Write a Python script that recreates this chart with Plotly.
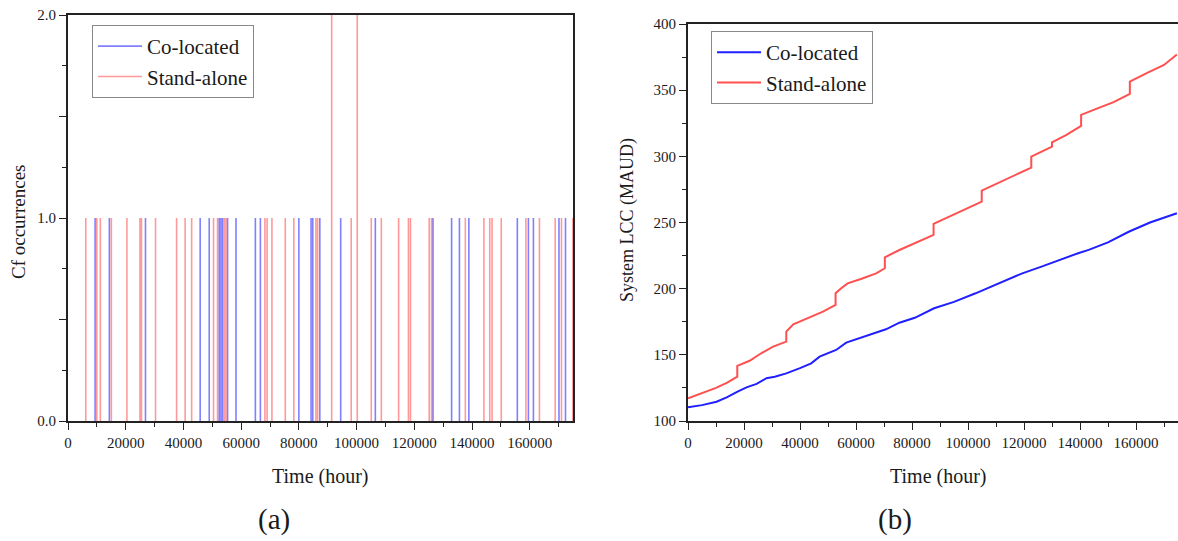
import plotly.graph_objects as go

# ---------------- data ----------------
# (a) Cf occurrence event times (hour) and counts
co_events_t = [9390, 14330, 26850, 45800, 48940, 52410, 53000, 53560, 55300, 58220,
               64930, 66670, 80000, 84240, 84830, 87260, 94500, 106500, 126490,
               132930, 135640, 138910, 155710, 159540, 161280, 170140, 172400]
co_events_n = [1] * len(co_events_t)

sa_events_t = [6160, 9980, 11200, 15020, 20420, 24940, 25460, 30330, 37630, 40590,
               42850, 50430, 51820, 54150, 54740, 68240, 69000, 70670, 75300, 78250,
               85910, 86500, 91370, 98150, 100240, 105100, 108580, 114570, 117970,
               118670, 125170, 125970, 137690, 144130, 146150, 146950, 150140,
               158670, 163360, 168820, 171010, 174940]
sa_events_n = [1] * len(sa_events_t)
sa_events_n[sa_events_t.index(91370)] = 2
sa_events_n[sa_events_t.index(100240)] = 2

# (b) System LCC (MAUD)
co_lcc_t = [0, 5000, 10200, 14000, 17700, 20900, 24500, 28000, 31000, 35100, 40000,
            44000, 47000, 50000, 52900, 56500, 61200, 67200, 70700, 75500, 81000,
            87900, 95000, 102700, 110000, 119400, 126000, 132400, 139600, 143100,
            150000, 157400, 165000, 174600]
co_lcc_v = [110.3, 112.0, 114.6, 118.0, 122.2, 125.4, 128.0, 132.3, 133.5, 136.0, 140.0,
            143.6, 148.6, 151.0, 153.7, 159.2, 162.5, 166.3, 169.3, 174.3, 178.0,
            185.2, 190.0, 196.5, 203.0, 211.6, 216.5, 221.7, 227.0, 229.3,
            235.0, 243.0, 250.0, 257.0]

sa_lcc_t = [0, 5000, 10000, 14000, 17600, 17600, 22000, 26000, 30400, 35100, 35100,
            37600, 43000, 48200, 52700, 52700, 54500, 57000, 62000, 67200, 70300,
            70300, 75500, 81000, 87700, 87700, 95700, 104900, 104900, 113800,
            122600, 122600, 130000, 130000, 135000, 140400, 140400, 146000, 152000,
            157800, 157800, 164000, 170000, 174600]
sa_lcc_v = [117.2, 121.0, 125.0, 129.0, 133.5, 141.6, 145.5, 151.0, 156.2, 160.0, 167.5,
            173.0, 178.0, 182.6, 187.7, 196.5, 200.0, 204.0, 207.5, 211.6, 215.4,
            223.7, 229.2, 234.5, 240.6, 248.9, 257.0, 265.8, 274.1, 283.0,
            291.5, 299.8, 307.3, 310.5, 316.0, 323.0, 331.3, 336.0, 341.0,
            347.2, 356.5, 363.0, 369.0, 377.0]

legend_names = ["Co-located", "Stand-alone"]
x_tick_vals = list(range(0, 170000, 20000))
x_tick_text = [str(v) for v in x_tick_vals]
lcc_tick_vals = list(range(100, 401, 50))
cf_tick_vals = [0, 0.5, 1, 1.5, 2]
cf_tick_text = ["0.0", "", "1.0", "", "2.0"]

# ---------------- helpers ----------------
def spikes(ts, ns):
    xs, ys = [], []
    for t, n in zip(ts, ns):
        xs += [t, t, None]
        ys += [0, n, None]
    return xs, ys

W, H = 1178, 541
FONT = "Liberation Serif"
TXT = "#1a1a1a"

def px(x):
    return x / W

def py(y):
    return 1 - y / H

fig = go.Figure()

cx, cy = spikes(co_events_t, co_events_n)
sx, sy = spikes(sa_events_t, sa_events_n)
fig.add_trace(go.Scatter(x=cx, y=cy, mode="lines", name=legend_names[0],
                         line=dict(color="rgba(0,0,255,0.5)", width=1.6),
                         connectgaps=False, xaxis="x", yaxis="y", legend="legend"))
fig.add_trace(go.Scatter(x=sx, y=sy, mode="lines", name=legend_names[1],
                         line=dict(color="rgba(255,0,0,0.4)", width=1.6),
                         connectgaps=False, xaxis="x", yaxis="y", legend="legend"))

fig.add_trace(go.Scatter(x=co_lcc_t, y=co_lcc_v, mode="lines", name=legend_names[0],
                         line=dict(color="#1f1fff", width=2),
                         xaxis="x2", yaxis="y2", legend="legend2"))
fig.add_trace(go.Scatter(x=sa_lcc_t, y=sa_lcc_v, mode="lines", name=legend_names[1],
                         line=dict(color="#ff5050", width=2),
                         xaxis="x2", yaxis="y2", legend="legend2"))

axis_common = dict(showline=True, linecolor="#222", linewidth=1.8, mirror=True,
                   ticks="outside", ticklen=7, tickwidth=1.3, tickcolor="#222",
                   showgrid=False, zeroline=False, automargin=False,
                   tickfont=dict(family=FONT, size=15, color=TXT))

def minor(dt, t0=0):
    return dict(tickmode="linear", tick0=t0, dtick=dt, ticks="outside",
                ticklen=4, tickwidth=1.3, tickcolor="#222", showgrid=False)

legend_common = dict(xanchor="left", yanchor="top",
                     bordercolor="#888", borderwidth=1, bgcolor="white",
                     font=dict(family=FONT, size=21, color=TXT),
                     tracegroupgap=0, itemwidth=44)

fig.update_layout(
    template="none",
    width=W, height=H,
    margin=dict(l=0, r=0, t=0, b=0, pad=0),
    paper_bgcolor="white", plot_bgcolor="white",
    font=dict(family=FONT, color=TXT),
    xaxis=dict(domain=[px(68), px(573)], range=[0, 175000], anchor="y",
               tickmode="array", tickvals=x_tick_vals, ticktext=x_tick_text,
               minor=minor(10000), **axis_common),
    yaxis=dict(domain=[py(421), py(15)], range=[0, 2], anchor="x",
               tickmode="array", tickvals=cf_tick_vals, ticktext=cf_tick_text,
               minor=minor(0.25), **axis_common),
    xaxis2=dict(domain=[px(688), 1.0], range=[0, 175000], anchor="y2",
                tickmode="array", tickvals=x_tick_vals, ticktext=x_tick_text,
                minor=minor(10000), **axis_common),
    yaxis2=dict(domain=[py(421), py(24)], range=[100, 400], anchor="x2",
                tickmode="array", tickvals=lcc_tick_vals,
                ticktext=[str(v) for v in lcc_tick_vals],
                minor=minor(25, 100), **axis_common),
    legend=dict(x=px(92), y=py(25), **legend_common),
    legend2=dict(x=px(711), y=py(31), **legend_common),
    showlegend=True,
)

annos = [
    dict(text="Time (hour)", x=px(320), y=py(476), font=dict(size=20)),
    dict(text="Time (hour)", x=px(938), y=py(476), font=dict(size=20)),
    dict(text="Cf occurrences", x=px(18), y=py(222), textangle=-90, font=dict(size=19)),
    dict(text="System LCC (MAUD)", x=px(627), y=py(220), textangle=-90, font=dict(size=18)),
    dict(text="(a)", x=px(274), y=py(519), font=dict(size=29)),
    dict(text="(b)", x=px(895), y=py(519), font=dict(size=29)),
]
for a in annos:
    a.update(xref="paper", yref="paper", showarrow=False, xanchor="center", yanchor="middle")
    a["font"].update(family=FONT, color=TXT)
    fig.add_annotation(**a)

fig.write_html("out.html")
